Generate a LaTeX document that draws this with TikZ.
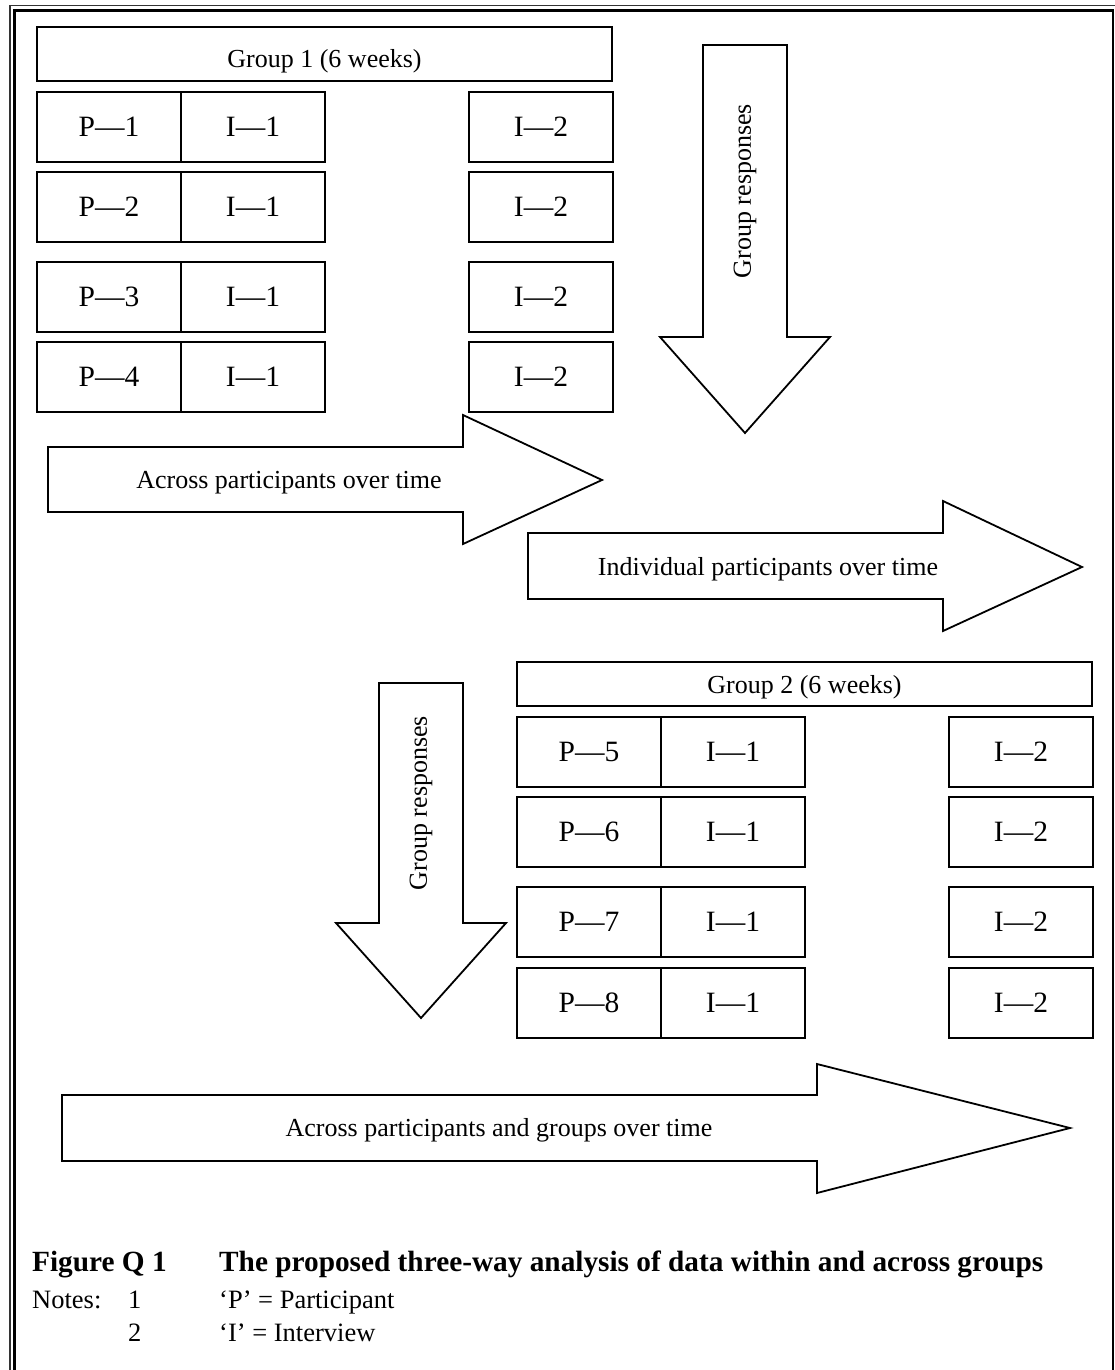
\documentclass[tikz,border=0pt]{standalone}
\usepackage{fontspec}
\setmainfont{Liberation Serif}
\begin{document}
\begin{tikzpicture}[x=1pt,y=-1pt,
  cell/.style={draw, line width=1.8pt, minimum width=144pt, minimum height=70pt, inner sep=0pt, font=\fontsize{29.5}{34}\selectfont},
  hdr/.style={draw, line width=1.8pt, minimum width=575pt, inner sep=0pt, text depth=0pt, font=\fontsize{26}{30}\selectfont},
  blk/.style={draw, line width=1.8pt, line join=miter},
  lbl/.style={font=\fontsize{26}{30}\selectfont, inner sep=0pt},
  captext/.style={anchor=base west, inner sep=0pt, font=\bfseries\fontsize{29.3}{34}\selectfont},
  notetext/.style={anchor=base west, inner sep=0pt, font=\fontsize{26.5}{30}\selectfont}]
\useasboundingbox (0,0) rectangle (1115,1370);
% frame (cropped page border)
\draw[line width=1.3pt, black!80] (10,1370) -- (10,5.2) -- (1115,5.2);
\draw[line width=2.4pt] (14.5,1370) -- (14.5,10.5) -- (1113,10.5) -- (1113,1370);
% Group 1
\node[hdr, minimum height=54pt, text height=28pt] (g1) at (324.5,54) {Group 1 (6 weeks)};
\foreach \n/\y in {1/127,2/207,3/297,4/377}{
  \node[cell] (p\n) at (109,\y) {P—\n};
  \node[cell] (ia\n) at (253,\y) {I—1};
  \node[cell] (ib\n) at (541,\y) {I—2};
}
% Group 2
\node[hdr, minimum height=44pt, text height=18pt] (g2) at (804.5,684) {Group 2 (6 weeks)};
\foreach \n/\y in {5/752,6/832,7/922,8/1003}{
  \node[cell] (p\n) at (589,\y) {P—\n};
  \node[cell] (ia\n) at (733,\y) {I—1};
  \node[cell] (ib\n) at (1021,\y) {I—2};
}
% block arrows
\draw[blk] (703,45) -- (787,45) -- (787,337) -- (830,337) -- (745,433) -- (660,337) -- (703,337) -- cycle;
\node[lbl, rotate=90] (grA) at (745,191) {Group responses};
\draw[blk] (48,447) -- (463,447) -- (463,415) -- (602,480) -- (463,544) -- (463,512) -- (48,512) -- cycle;
\node[lbl, anchor=base] (acrA) at (289,488) {Across participants over time};
\draw[blk] (528,533) -- (943,533) -- (943,501) -- (1082,567) -- (943,631) -- (943,599) -- (528,599) -- cycle;
\node[lbl, anchor=base] (indA) at (768,575) {Individual participants over time};
\draw[blk] (379,683) -- (463,683) -- (463,923) -- (506,923) -- (421,1018) -- (336,923) -- (379,923) -- cycle;
\node[lbl, rotate=90] (grB) at (421,803) {Group responses};
\draw[blk] (62,1095) -- (817,1095) -- (817,1064) -- (1070,1128) -- (817,1193) -- (817,1161) -- (62,1161) -- cycle;
\node[lbl, anchor=base] (acrB) at (499,1136) {Across participants and groups over time};
% caption
\node[captext] (figno) at (32,1271) {Figure Q 1};
\node[captext] (figtitle) at (219,1271) {The proposed three-way analysis of data within and across groups};
\node[notetext] (notes) at (32,1308) {Notes:};
\node[notetext] (n1) at (128,1308) {1};
\node[notetext] (n1t) at (219,1308) {‘P’ = Participant};
\node[notetext] (n2) at (128,1341) {2};
\node[notetext] (n2t) at (219,1341) {‘I’ = Interview};
\end{tikzpicture}
\end{document}
